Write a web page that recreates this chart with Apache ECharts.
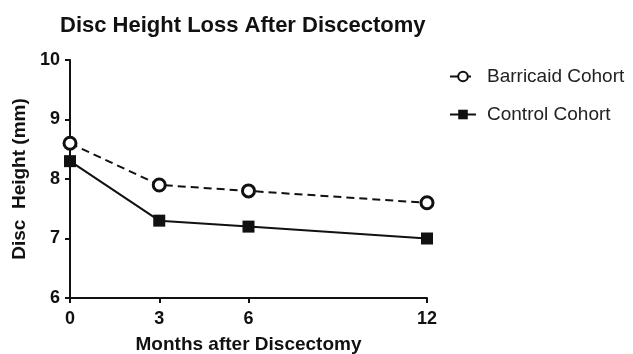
<!DOCTYPE html>
<html>
<head>
<meta charset="utf-8">
<script src="https://cdn.jsdelivr.net/npm/echarts@6/dist/echarts.min.js"></script>
<style>html,body{margin:0;padding:0;background:#fff}#c{width:633px;height:354px}</style>
</head>
<body>
<div id="c"></div>
<script>
var months = [0, 3, 6, 12];
var barricaid = [8.6, 7.9, 7.8, 7.6];
var control = [8.3, 7.3, 7.2, 7.0];
var yTicks = [6, 7, 8, 9, 10];

var chart = echarts.init(document.getElementById('c'));
var font = 'Liberation Sans, Arial, sans-serif';
chart.setOption({
  animation: false,
  backgroundColor: '#fff',
  title: {
    text: 'Disc Height Loss After Discectomy',
    left: 55, top: 10,
    textStyle: {fontFamily: font, fontSize: 22, fontWeight: 'bold', color: '#111'}
  },
  legend: {
    orient: 'vertical', left: 444, top: 62, itemGap: 19, itemWidth: 26, itemHeight: 12,
    textStyle: {fontFamily: font, fontSize: 19, color: '#222', padding: [0, 0, 0, 6]},
    data: ['Barricaid Cohort', 'Control Cohort']
  },
  grid: {left: 70, right: 206, top: 60, bottom: 56, containLabel: false, outerBoundsMode: 'none'},
  xAxis: {
    type: 'value', min: 0, max: 12,
    name: 'Months after Discectomy', nameLocation: 'middle', nameGap: 37,
    nameTextStyle: {fontFamily: font, fontSize: 19, fontWeight: 'bold', color: '#111'},
    axisLine: {show: true, lineStyle: {color: '#111', width: 2}},
    axisTick: {show: true, length: 5, lineStyle: {color: '#111', width: 2}, customValues: months},
    axisLabel: {fontFamily: font, fontSize: 18, fontWeight: 'bold', color: '#111', margin: 12, customValues: months},
    splitLine: {show: false}
  },
  yAxis: {
    type: 'value', min: 6, max: 10, interval: 1,
    name: 'Disc  Height (mm)', nameLocation: 'middle', nameGap: 38,
    nameTextStyle: {fontFamily: font, fontSize: 19, fontWeight: 'bold', color: '#111'},
    axisLine: {show: true, lineStyle: {color: '#111', width: 2}},
    axisTick: {show: true, length: 5, lineStyle: {color: '#111', width: 2}},
    axisLabel: {fontFamily: font, fontSize: 18, fontWeight: 'bold', color: '#111', margin: 10},
    splitLine: {show: false}
  },
  series: [
    {
      name: 'Barricaid Cohort', type: 'line',
      data: months.map(function (m, i) { return [m, barricaid[i]]; }),
      symbol: 'circle', symbolSize: 12,
      lineStyle: {color: '#111', width: 2, type: [8, 5]},
      itemStyle: {color: '#fff', borderColor: '#111', borderWidth: 3},
      z: 3
    },
    {
      name: 'Control Cohort', type: 'line',
      data: months.map(function (m, i) { return [m, control[i]]; }),
      symbol: 'rect', symbolSize: 12,
      lineStyle: {color: '#111', width: 2},
      itemStyle: {color: '#111', borderColor: '#111', borderWidth: 0},
      z: 2
    }
  ]
});
</script>
</body>
</html>
